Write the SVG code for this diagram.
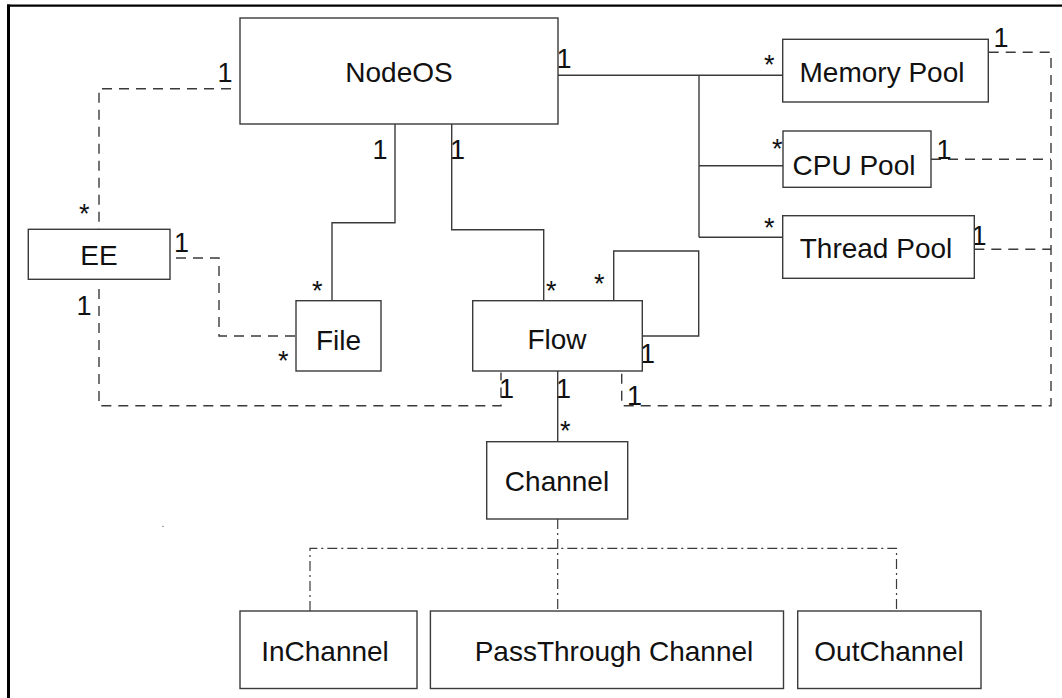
<svg xmlns="http://www.w3.org/2000/svg" width="1062" height="698" viewBox="0 0 1062 698">
<style>
.box{fill:#fff;stroke:#3a3a3a;stroke-width:1.4}
.lbl{font-family:"Liberation Sans",Arial,sans-serif;font-size:28px;fill:#111;text-anchor:middle}
.m{font-family:"Liberation Sans",Arial,sans-serif;font-size:27px;fill:#111}
.solid{fill:none;stroke:#3a3a3a;stroke-width:1.4}
.dash{fill:none;stroke:#3a3a3a;stroke-width:1.4;stroke-dasharray:10 7}
.dd{fill:none;stroke:#3a3a3a;stroke-width:1.2;stroke-dasharray:10 4 2 4}
</style>
<rect width="1062" height="698" fill="#fff"/>
<g id="frame">
<line x1="7" y1="5.7" x2="1062" y2="5.7" stroke="#000" stroke-width="2.2"/>
<line x1="8.5" y1="4.6" x2="8.5" y2="698" stroke="#000" stroke-width="3"/>
</g>
<g id="connectors">
<path class="solid" d="M558 75.3H783M699 75.3V237.3M699 165.7H783M699 237.3H783"/>
<path class="solid" d="M395 124V222.7H332V300.7"/>
<path class="solid" d="M451.7 124V229.7H543.7V300.7"/>
<path class="solid" d="M613.7 300.7V251H698.7V336H642.3"/>
<path class="solid" d="M557.7 371V441.7"/>
<path class="dash" d="M231 88.7H99V229.3"/>
<path class="dash" d="M176 258H219V336H296"/>
<path class="dash" d="M99 289V405.7H501V372.5"/>
<path class="dash" d="M988.7 52.3H1051V405.7H621.7V372.5"/>
<path class="dash" d="M931 159.3H1051"/>
<path class="dash" d="M974.3 249.3H1051"/>
<path class="dd" d="M557.7 519V611"/>
<path class="dd" d="M310 611V548.3H896.5V611"/>
<g id="multiplicities">
<text class="m" x="217.5" y="82">1</text>
<text class="m" x="79" y="223">*</text>
<text class="m" x="174" y="251.5">1</text>
<text class="m" x="76.5" y="315">1</text>
<text class="m" x="278" y="370">*</text>
<text class="m" x="312" y="300">*</text>
<text class="m" x="372.5" y="159">1</text>
<text class="m" x="450" y="159">1</text>
<text class="m" x="556.5" y="68">1</text>
<text class="m" x="764" y="73.6">*</text>
<text class="m" x="772" y="158">*</text>
<text class="m" x="764" y="237">*</text>
<text class="m" x="993.5" y="47">1</text>
<text class="m" x="936.5" y="158.5">1</text>
<text class="m" x="971.5" y="245">1</text>
<text class="m" x="546" y="300">*</text>
<text class="m" x="594" y="293">*</text>
<text class="m" x="640" y="363">1</text>
<text class="m" x="499" y="398">1</text>
<text class="m" x="556" y="398">1</text>
<text class="m" x="627" y="405">1</text>
<text class="m" x="560" y="440">*</text>
</g>
</g>
<g id="NodeOS"><rect class="box" x="240" y="18" width="318" height="106"/><text class="lbl" x="399" y="82">NodeOS</text></g>
<g id="MemoryPool"><rect class="box" x="782.7" y="39.3" width="205.6" height="62.7"/><text class="lbl" x="882" y="82">Memory Pool</text></g>
<g id="CPUPool"><rect class="box" x="783" y="131" width="148" height="56.3"/><text class="lbl" x="854" y="175">CPU Pool</text></g>
<g id="ThreadPool"><rect class="box" x="782.7" y="215.7" width="191.6" height="62.6"/><text class="lbl" x="876" y="258.3">Thread Pool</text></g>
<g id="EE"><rect class="box" x="28.3" y="229.3" width="141.7" height="50"/><text class="lbl" x="99" y="265">EE</text></g>
<g id="File"><rect class="box" x="296" y="300.7" width="85" height="70.3"/><text class="lbl" x="338.5" y="350">File</text></g>
<g id="Flow"><rect class="box" x="472.7" y="300.7" width="169.6" height="70.3"/><text class="lbl" x="557" y="349">Flow</text></g>
<g id="Channel"><rect class="box" x="486.7" y="441.7" width="141" height="77.3"/><text class="lbl" x="557" y="490.7">Channel</text></g>
<g id="InChannel"><rect class="box" x="240" y="611" width="177" height="77.5"/><text class="lbl" x="325" y="660.5">InChannel</text></g>
<g id="PassThroughChannel"><rect class="box" x="430.4" y="611" width="353.1" height="77.5"/><text class="lbl" x="614" y="660.5">PassThrough Channel</text></g>
<g id="OutChannel"><rect class="box" x="797.7" y="611" width="183.3" height="77.5"/><text class="lbl" x="889" y="660.5">OutChannel</text></g>
<circle cx="163" cy="526.4" r="0.7" fill="#666"/>
</svg>
